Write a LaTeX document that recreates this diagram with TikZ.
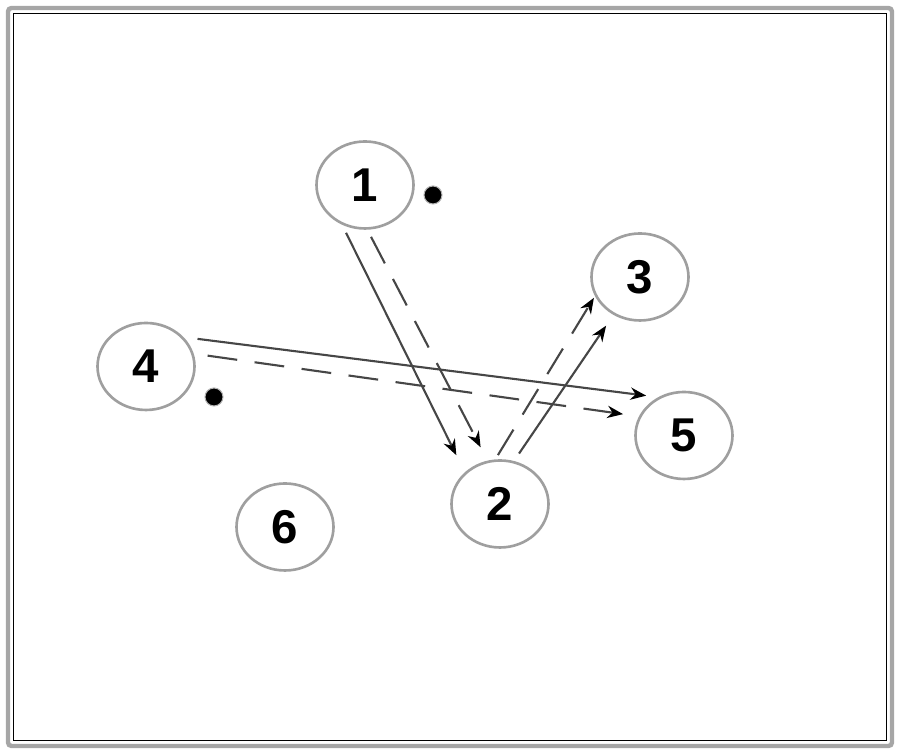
\documentclass[tikz,border=0pt]{standalone}
\usepackage{fontspec}
\setmainfont{Liberation Sans}
\usetikzlibrary{arrows.meta,shapes.geometric}

\tikzset{
  place/.style={ellipse,draw=gray!75,line width=1.5pt,minimum width=1.94cm,
    minimum height=1.74cm,inner sep=0pt,font=\bfseries\fontsize{27}{30}\selectfont},
  stamp/.style={circle,fill=black,draw=gray!60,line width=0.6pt,minimum size=0.36cm,
    inner sep=0pt},
  flow/.style={line width=1.2pt,draw=gray!55!black},
  flowdash/.style={flow,dash pattern=on 17pt off 10pt},
}

\begin{document}
\begin{tikzpicture}[->,>={Stealth[length=9pt,width=7pt,black]},shorten >=1pt,semithick]
          \useasboundingbox (0,0) rectangle (18,15.08);
          \draw[-,gray!70,line width=2.5pt,rounded corners=2pt] (0.16,0.16) rectangle (17.84,14.92);
          \draw[-,black,line width=0.8pt] (0.27,0.27) rectangle (17.73,14.81);

          \node[place] (n1) at ( 7.30, 11.38) {1};
          \node[place] (n2) at (10.00,  5.00) {2};
          \node[place] (n3) at (12.80,  9.54) {3};
          \node[place] (n4) at ( 2.92,  7.75) {4};
          \node[place] (n5) at (13.68,  6.37) {5};
          \node[place] (n6) at ( 5.70,  4.54) {6};

          \node[stamp] (s1) at ( 8.66, 11.18) {};
          \node[stamp] (s4) at ( 4.28,  7.14) {};

          \path (n1.240) edge[flow,shorten <=0.18cm,shorten >=0.38cm]    (n2.138)
                (n1.273) edge[flowdash,shorten <=0.16cm,shorten >=0.30cm] (n2.106)
                (n4.38) edge[flow,shorten <=0.28cm,shorten >=0.24cm]     (n5.124)
                (n4.15) edge[flowdash,shorten <=0.28cm,shorten >=0.32cm] (n5.157)
                (n2.72) edge[flow,shorten <=0.18cm,shorten >=0.26cm]     (n3.235)
                (n2.96) edge[flowdash,shorten <=0.10cm,shorten >=0.04cm] (n3.203);
        \end{tikzpicture}
\end{document}
